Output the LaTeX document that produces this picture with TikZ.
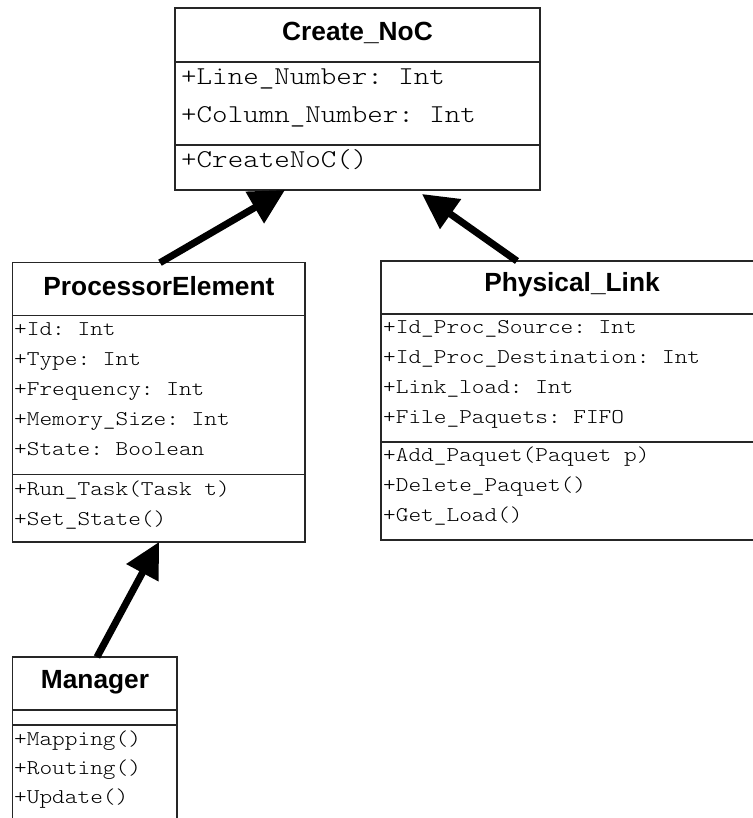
\documentclass[tikz,border=0pt]{standalone}
\usepackage{fontspec}
\setmainfont{Liberation Sans}
\setsansfont{Liberation Sans}
\setmonofont{lmmonolt10-regular.otf}[FakeStretch=1.15]
\usetikzlibrary{arrows.meta}
\begin{document}
\begin{tikzpicture}[x=1pt,y=-1pt,
  classbox/.style={draw=black!85, line width=1.1pt, anchor=north west, inner sep=0pt, outer sep=0pt},
  sepline/.style={draw=black!85, line width=1.1pt},
  titletext/.style={anchor=base, inner sep=0pt, font=\fontsize{26.3}{30}\selectfont\sffamily\bfseries},
  attr/.style={anchor=base west, inner sep=0pt, font=\fontsize{21}{25}\selectfont\ttfamily},
  bigattr/.style={anchor=base west, inner sep=0pt, font=\fontsize{25.7}{30}\selectfont\ttfamily},
  arr/.style={line width=7pt, -{Triangle[length=35pt,width=35pt]}}
]
\useasboundingbox (0,0) rectangle (752,818);

% Create_NoC
\node[classbox, minimum width=365pt, minimum height=182pt] (cn) at (175,8) {};
\draw[sepline] (175,62) -- (540,62);
\draw[sepline] (175,145) -- (540,145);
\node[titletext] (cnt) at (357.5,40.7) {Create\_NoC};
\node[bigattr] (cn1) at (181,85) {+Line\_Number: Int};
\node[bigattr] (cn2) at (181,122.7) {+Column\_Number: Int};
\node[bigattr] (cn3) at (181,168) {+CreateNoC()};

% ProcessorElement
\node[classbox, minimum width=292.3pt, minimum height=279.3pt] (pe) at (12.7,262.7) {};
\draw[sepline] (12.7,315.7) -- (305,315.7);
\draw[sepline] (12.7,474.7) -- (305,474.7);
\node[titletext] (pet) at (158.9,295) {ProcessorElement};
\node[attr] (pe1) at (14,335) {+Id: Int};
\node[attr] (pe2) at (14,365) {+Type: Int};
\node[attr] (pe3) at (14,395) {+Frequency: Int};
\node[attr] (pe4) at (14,425) {+Memory\_Size: Int};
\node[attr] (pe5) at (14,455) {+State: Boolean};
\node[attr] (pe6) at (14,495) {+Run\_Task(Task t)};
\node[attr] (pe7) at (14,525) {+Set\_State()};

% Physical_Link
\node[classbox, minimum width=382pt, minimum height=279pt] (pl) at (381,261) {};
\draw[sepline] (381,314) -- (763,314);
\draw[sepline] (381,442) -- (763,442);
\node[titletext] (plt) at (572,291.7) {Physical\_Link};
\node[attr] (pl1) at (383,333) {+Id\_Proc\_Source: Int};
\node[attr] (pl2) at (383,363) {+Id\_Proc\_Destination: Int};
\node[attr] (pl3) at (383,393) {+Link\_load: Int};
\node[attr] (pl4) at (383,423) {+File\_Paquets: FIFO};
\node[attr] (pl5) at (383,461.7) {+Add\_Paquet(Paquet p)};
\node[attr] (pl6) at (383,491.7) {+Delete\_Paquet()};
\node[attr] (pl7) at (383,521.7) {+Get\_Load()};

% Manager
\node[classbox, minimum width=164.3pt, minimum height=180pt] (mg) at (12.7,657) {};
\draw[sepline] (12.7,710) -- (177,710);
\draw[sepline] (12.7,725) -- (177,725);
\node[titletext] (mgt) at (95,688) {Manager};
\node[attr] (mg1) at (14,745) {+Mapping()};
\node[attr] (mg2) at (14,774) {+Routing()};
\node[attr] (mg3) at (14,803) {+Update()};

% connectors
\coordinate (a1s) at ([xshift=147.3pt]pe.north west);
\coordinate (a1e) at ([xshift=110pt]cn.south west);
\coordinate (a2s) at ([xshift=136pt]pl.north west);
\coordinate (a2e) at ([xshift=247pt,yshift=-4pt]cn.south west);
\coordinate (a3s) at ([xshift=84.3pt]mg.north west);
\coordinate (a3e) at ([xshift=146.3pt]pe.south west);
\draw[arr] (a1s) -- (a1e);
\draw[arr] (a2s) -- (a2e);
\draw[arr] (a3s) -- (a3e);
\end{tikzpicture}
\end{document}
